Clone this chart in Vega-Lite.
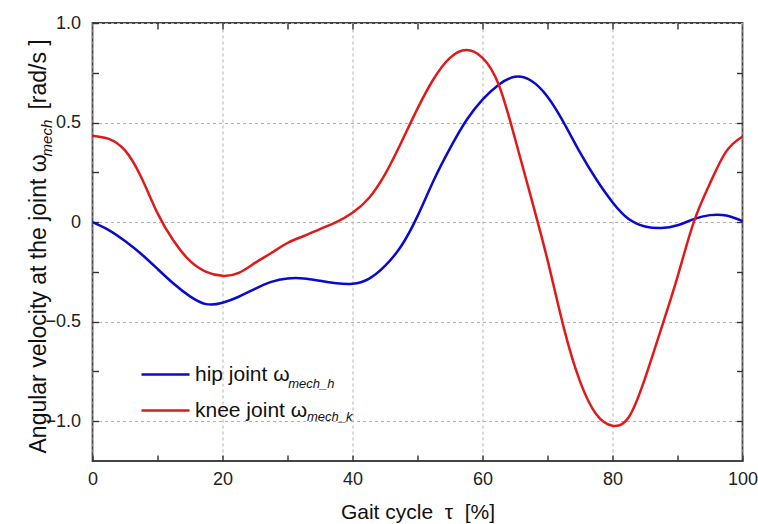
{
  "$schema": "https://vega.github.io/schema/vega-lite/v6.json",
  "width": 650,
  "height": 438,
  "autosize": "none",
  "padding": {"left": 92.5, "top": 23, "right": 15.5, "bottom": 63},
  "background": "white",
  "config": {
    "font": "Liberation Sans",
    "view": {"stroke": "#444444", "strokeWidth": 1.8},
    "axis": {
      "domain": false,
      "tickSize": -6,
      "tickColor": "#333333",
      "tickWidth": 1.4,
      "gridColor": "#b0b0b0",
      "gridDash": [3, 3],
      "gridWidth": 1,
      "labelFont": "Liberation Sans",
      "labelFontSize": 18,
      "labelColor": "#222222",
      "titleFont": "Liberation Sans",
      "titleFontSize": 21,
      "titleFontWeight": "normal",
      "titleColor": "#111111"
    }
  },
  "data": {
    "values": [
      {"t": 0, "joint": "hip", "w": 0.0},
      {"t": 2.5, "joint": "hip", "w": -0.04},
      {"t": 5, "joint": "hip", "w": -0.095},
      {"t": 7.5, "joint": "hip", "w": -0.16},
      {"t": 10, "joint": "hip", "w": -0.235},
      {"t": 12.5, "joint": "hip", "w": -0.31},
      {"t": 15, "joint": "hip", "w": -0.373},
      {"t": 17.5, "joint": "hip", "w": -0.412},
      {"t": 20, "joint": "hip", "w": -0.405},
      {"t": 22.5, "joint": "hip", "w": -0.375},
      {"t": 25, "joint": "hip", "w": -0.335},
      {"t": 27.5, "joint": "hip", "w": -0.3},
      {"t": 30, "joint": "hip", "w": -0.283},
      {"t": 32.5, "joint": "hip", "w": -0.283},
      {"t": 35, "joint": "hip", "w": -0.295},
      {"t": 37.5, "joint": "hip", "w": -0.307},
      {"t": 40, "joint": "hip", "w": -0.31},
      {"t": 42.5, "joint": "hip", "w": -0.285},
      {"t": 45, "joint": "hip", "w": -0.22},
      {"t": 47.5, "joint": "hip", "w": -0.12},
      {"t": 50, "joint": "hip", "w": 0.03},
      {"t": 52.5, "joint": "hip", "w": 0.21},
      {"t": 55, "joint": "hip", "w": 0.37},
      {"t": 57.5, "joint": "hip", "w": 0.51},
      {"t": 60, "joint": "hip", "w": 0.615},
      {"t": 62.5, "joint": "hip", "w": 0.69},
      {"t": 65, "joint": "hip", "w": 0.73},
      {"t": 67.5, "joint": "hip", "w": 0.71},
      {"t": 70, "joint": "hip", "w": 0.63},
      {"t": 72.5, "joint": "hip", "w": 0.5},
      {"t": 75, "joint": "hip", "w": 0.35},
      {"t": 77.5, "joint": "hip", "w": 0.215},
      {"t": 80, "joint": "hip", "w": 0.1},
      {"t": 82.5, "joint": "hip", "w": 0.015},
      {"t": 85, "joint": "hip", "w": -0.022},
      {"t": 87.5, "joint": "hip", "w": -0.03},
      {"t": 90, "joint": "hip", "w": -0.016},
      {"t": 92.5, "joint": "hip", "w": 0.015},
      {"t": 95, "joint": "hip", "w": 0.035},
      {"t": 97.5, "joint": "hip", "w": 0.033},
      {"t": 100, "joint": "hip", "w": 0.005},
      {"t": 0, "joint": "knee", "w": 0.434},
      {"t": 2.5, "joint": "knee", "w": 0.418},
      {"t": 5, "joint": "knee", "w": 0.36},
      {"t": 7.5, "joint": "knee", "w": 0.225},
      {"t": 10, "joint": "knee", "w": 0.045},
      {"t": 12.5, "joint": "knee", "w": -0.095},
      {"t": 15, "joint": "knee", "w": -0.195},
      {"t": 17.5, "joint": "knee", "w": -0.25},
      {"t": 20, "joint": "knee", "w": -0.27},
      {"t": 22.5, "joint": "knee", "w": -0.255},
      {"t": 25, "joint": "knee", "w": -0.205},
      {"t": 27.5, "joint": "knee", "w": -0.155},
      {"t": 30, "joint": "knee", "w": -0.105},
      {"t": 32.5, "joint": "knee", "w": -0.07},
      {"t": 35, "joint": "knee", "w": -0.035},
      {"t": 37.5, "joint": "knee", "w": 0.0},
      {"t": 40, "joint": "knee", "w": 0.047},
      {"t": 42.5, "joint": "knee", "w": 0.12},
      {"t": 45, "joint": "knee", "w": 0.24},
      {"t": 47.5, "joint": "knee", "w": 0.4},
      {"t": 50, "joint": "knee", "w": 0.57},
      {"t": 52.5, "joint": "knee", "w": 0.72},
      {"t": 55, "joint": "knee", "w": 0.825},
      {"t": 57.5, "joint": "knee", "w": 0.864},
      {"t": 60, "joint": "knee", "w": 0.825},
      {"t": 62.5, "joint": "knee", "w": 0.69},
      {"t": 65, "joint": "knee", "w": 0.42},
      {"t": 67.5, "joint": "knee", "w": 0.12},
      {"t": 70, "joint": "knee", "w": -0.19},
      {"t": 72.5, "joint": "knee", "w": -0.53},
      {"t": 75, "joint": "knee", "w": -0.8},
      {"t": 77.5, "joint": "knee", "w": -0.965},
      {"t": 80, "joint": "knee", "w": -1.023},
      {"t": 82.5, "joint": "knee", "w": -0.98},
      {"t": 85, "joint": "knee", "w": -0.785},
      {"t": 87.5, "joint": "knee", "w": -0.535},
      {"t": 90, "joint": "knee", "w": -0.275},
      {"t": 92.5, "joint": "knee", "w": 0.0},
      {"t": 95, "joint": "knee", "w": 0.195},
      {"t": 97.5, "joint": "knee", "w": 0.355},
      {"t": 100, "joint": "knee", "w": 0.43}
    ]
  },
  "layer": [
    {
      "mark": {"type": "line", "interpolate": "natural", "strokeWidth": 2.5},
      "encoding": {
        "x": {
          "field": "t",
          "type": "quantitative",
          "scale": {"domain": [0, 100], "nice": false, "zero": false},
          "axis": {
            "orient": "bottom",
            "values": [0, 10, 20, 30, 40, 50, 60, 70, 80, 90, 100],
            "labelExpr": "datum.value % 20 === 0 ? datum.label : ''",
            "labelPadding": 15,
            "labelFlush": false,
            "gridOpacity": {"condition": {"test": "datum.value % 20 === 0", "value": 1}, "value": 0},
            "title": "Gait cycle\u00a0 τ\u00a0 [%]",
            "titleX": 325,
            "titleY": 57,
            "titleAlign": "center",
            "titleBaseline": "alphabetic"
          }
        },
        "y": {
          "field": "w",
          "type": "quantitative",
          "scale": {"domain": [-1.2, 1.0], "nice": false, "zero": false},
          "axis": {
            "orient": "left",
            "values": [-1, -0.75, -0.5, -0.25, 0, 0.25, 0.5, 0.75, 1],
            "labelExpr": "abs(datum.value % 0.5) > 0.001 ? '' : (datum.value === 0 ? '0' : format(datum.value, '.1f'))",
            "labelPadding": 18,
            "labelFlush": false,
            "gridOpacity": {"condition": {"test": "abs(datum.value % 0.5) < 0.001", "value": 1}, "value": 0},
            "title": "Angular velocity at the joint ω\u00a0\u00a0\u00a0\u00a0\u00a0\u00a0\u00a0[rad/s\u00a0]",
            "titleFontSize": 23,
            "titleAngle": 270,
            "titleX": -47,
            "titleY": 430,
            "titleAlign": "left",
            "titleBaseline": "alphabetic"
          }
        },
        "color": {
          "field": "joint",
          "type": "nominal",
          "scale": {"domain": ["hip", "knee"], "range": ["#0a0acc", "#e01a1a"]},
          "legend": {
            "title": null,
            "orient": "none",
            "legendX": 47.5,
            "legendY": 326,
            "padding": 0,
            "symbolType": "stroke",
            "symbolSize": 2304,
            "symbolStrokeWidth": 2.5,
            "labelFontSize": 21,
            "labelColor": "#111111",
            "labelOffset": 4,
            "rowPadding": -4,
            "labelExpr": "datum.label === 'hip' ? 'hip joint ω' : 'knee joint ω'"
          }
        }
      }
    },
    {
      "mark": {"type": "line", "strokeOpacity": 0},
      "encoding": {
        "x": {
          "field": "t",
          "type": "quantitative",
          "axis": {
            "orient": "top",
            "values": [10, 20, 30, 40, 50, 60, 70, 80, 90],
            "labels": false,
            "grid": false,
            "title": null
          }
        },
        "y": {
          "field": "w",
          "type": "quantitative",
          "axis": {
            "orient": "right",
            "values": [-1, -0.75, -0.5, -0.25, 0, 0.25, 0.5, 0.75],
            "labels": false,
            "grid": false,
            "title": null
          }
        },
        "detail": {"field": "joint"}
      }
    },
    {
      "data": {"values": [{"sub": "mech"}]},
      "mark": {"type": "text", "angle": 270, "align": "left", "baseline": "alphabetic", "font": "Liberation Sans", "fontSize": 15, "fontStyle": "italic", "color": "#111111"},
      "encoding": {
        "x": {"datum": -6.3, "axis": null},
        "y": {"datum": 0.33, "axis": null},
        "text": {"field": "sub"}
      }
    },
    {
      "data": {"values": [{"sub": "mech_h", "joint": "hip"}, {"sub": "mech_k", "joint": "knee"}]},
      "transform": [{"filter": "datum.joint === 'hip'"}],
      "mark": {"type": "text", "align": "left", "baseline": "alphabetic", "font": "Liberation Sans", "fontSize": 13, "fontStyle": "italic", "color": "#111111"},
      "encoding": {
        "x": {"datum": 30.1, "axis": null},
        "y": {"datum": -0.835, "axis": null},
        "text": {"field": "sub"}
      }
    },
    {
      "data": {"values": [{"sub": "mech_h", "joint": "hip"}, {"sub": "mech_k", "joint": "knee"}]},
      "transform": [{"filter": "datum.joint === 'knee'"}],
      "mark": {"type": "text", "align": "left", "baseline": "alphabetic", "font": "Liberation Sans", "fontSize": 13, "fontStyle": "italic", "color": "#111111"},
      "encoding": {
        "x": {"datum": 33.0, "axis": null},
        "y": {"datum": -1.0, "axis": null},
        "text": {"field": "sub"}
      }
    }
  ],
  "resolve": {"axis": {"x": "independent", "y": "independent"}}
}
